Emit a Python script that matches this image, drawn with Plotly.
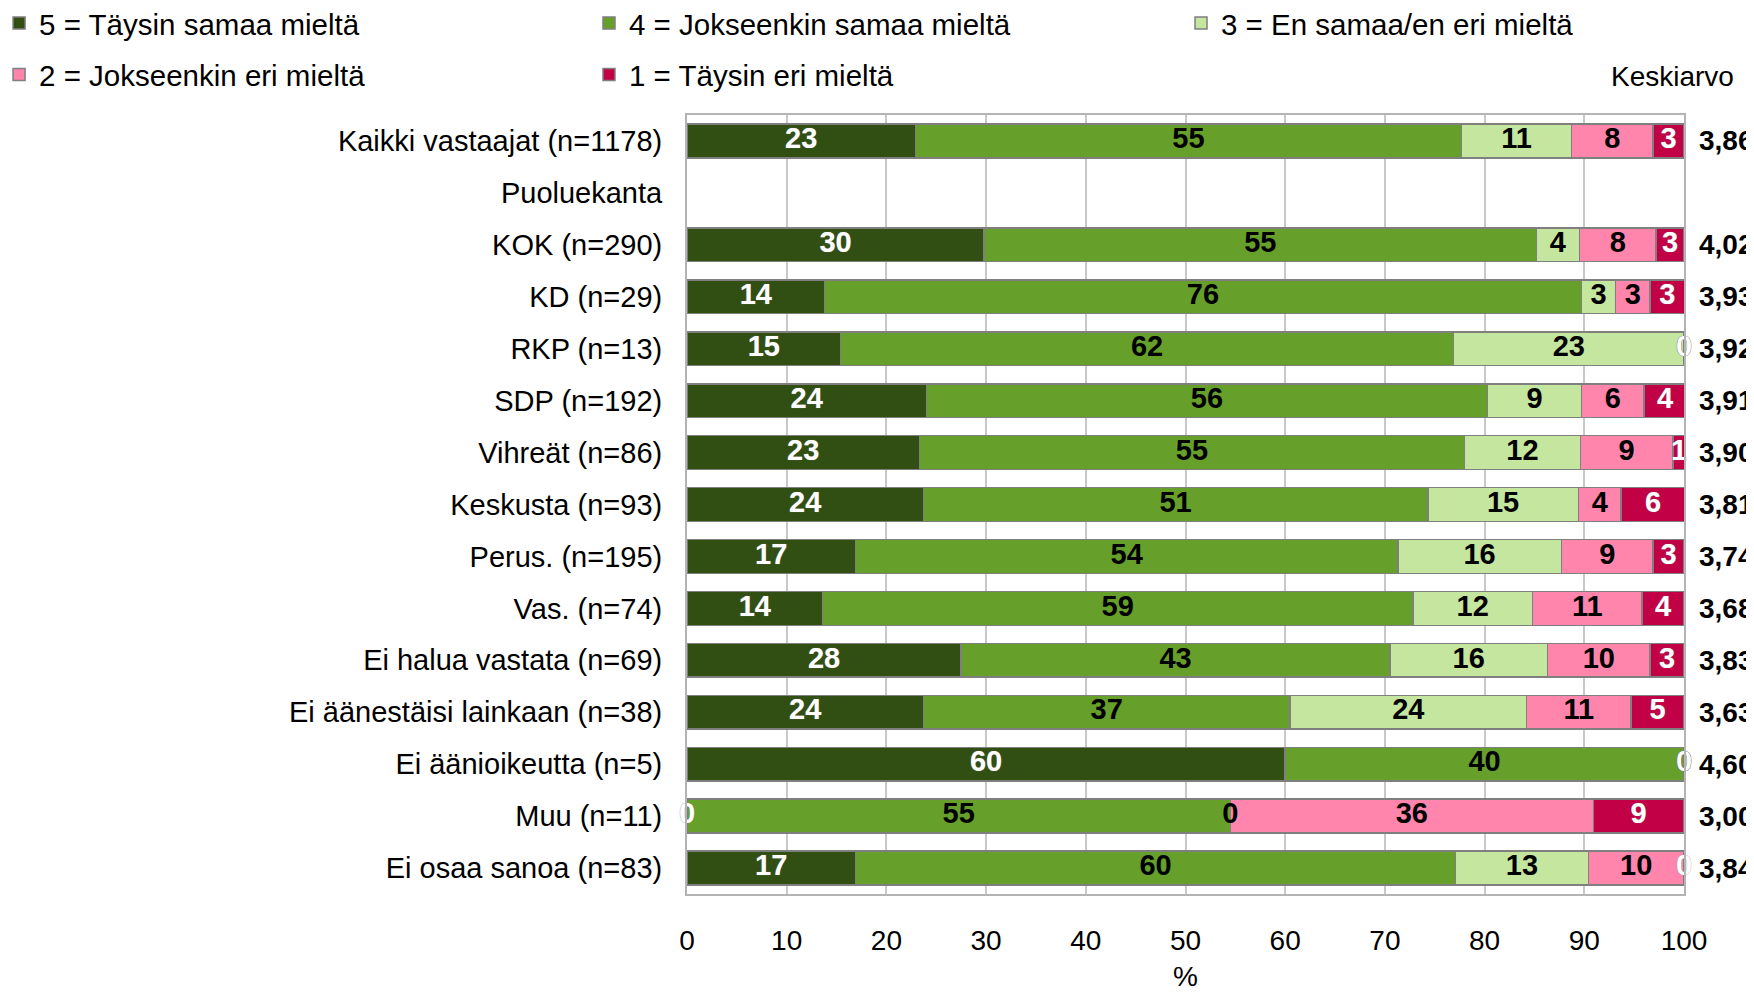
import plotly.graph_objects as go

categories = [
    "Kaikki vastaajat (n=1178)", "Puoluekanta", "KOK (n=290)", "KD (n=29)", "RKP (n=13)",
    "SDP (n=192)", "Vihreät (n=86)", "Keskusta (n=93)", "Perus. (n=195)", "Vas. (n=74)",
    "Ei halua vastata (n=69)", "Ei äänestäisi lainkaan (n=38)", "Ei äänioikeutta (n=5)",
    "Muu (n=11)", "Ei osaa sanoa (n=83)",
]

series_names = [
    "5 = Täysin samaa mieltä", "4 = Jokseenkin samaa mieltä", "3 = En samaa/en eri mieltä",
    "2 = Jokseenkin eri mieltä", "1 = Täysin eri mieltä",
]

s5 = [22.9, None, 29.8, 13.8, 15.4, 24.0, 23.3, 23.7, 16.9, 13.6, 27.5, 23.7, 60.0, 0.0, 16.9]
s4 = [54.8, None, 55.4, 75.9, 61.5, 56.3, 54.7, 50.6, 54.4, 59.2, 43.0, 36.8, 40.0, 54.5, 60.2]
s3 = [11.0, None, 4.3, 3.45, 23.1, 9.4, 11.6, 15.1, 16.4, 12.0, 15.8, 23.7, 0.0, 0.0, 13.3]
s2 = [8.2, None, 7.7, 3.45, 0.0, 6.3, 9.3, 4.3, 9.2, 11.0, 10.3, 10.5, 0.0, 36.4, 9.6]
s1 = [3.1, None, 2.8, 3.45, 0.0, 4.2, 1.2, 6.4, 3.1, 4.2, 3.4, 5.3, 0.0, 9.1, 0.0]

keskiarvo = ["3,86", "", "4,02", "3,93", "3,92", "3,91", "3,90", "3,81", "3,74", "3,68",
             "3,83", "3,63", "4,60", "3,00", "3,84"]

colors = ["#314f12", "#66a02a", "#c4e69f", "#ff85ad", "#c20046"]
text_colors = ["white", "black", "black", "black", "white"]
legend_ids = ["legend", "legend2", "legend3", "legend", "legend2"]

FONT = "Liberation Sans, Arial, sans-serif"
series = [s5, s4, s3, s2, s1]

fig = go.Figure()

for idx, (name, vals, col, lg) in enumerate(zip(series_names, series, colors, legend_ids)):
    fig.add_trace(go.Bar(
        y=categories, x=vals, name=name, orientation="h",
        marker=dict(color=col, line=dict(color="#7f7f7f", width=1.5)),
        legend=lg, legendgroup="g%d" % idx,
        hoverinfo="skip",
    ))

# data labels (including zero-width segments), centred on each segment
cum = [0.0] * len(categories)
for vals, tc in zip(series, text_colors):
    xs, ys, ts = [], [], []
    for i, v in enumerate(vals):
        if v is None:
            continue
        xs.append(cum[i] + v / 2.0)
        ys.append(categories[i])
        ts.append(str(int(v + 0.5)))
        cum[i] += v
    fig.add_trace(go.Scatter(
        x=xs, y=ys, text=ts, mode="text", showlegend=False, hoverinfo="skip",
        cliponaxis=False,
        textfont=dict(family=FONT, size=29, color=tc, weight="bold",
                      shadow=("0px 0px 1px #808080" if tc == "white" else "none")),
    ))

for cat, k in zip(categories, keskiarvo):
    if k:
        fig.add_annotation(x=1.013, xref="paper", y=cat, yref="y", text="<b>" + k + "</b>",
                           showarrow=False, xanchor="left",
                           font=dict(family=FONT, size=28, color="black"))

fig.add_annotation(x=1.052, xref="paper", y=1.050, yref="paper", text="Keskiarvo",
                   showarrow=False, xanchor="right", yanchor="middle",
                   font=dict(family=FONT, size=28, color="black"))

leg_common = dict(orientation="v", xanchor="left", yanchor="top", y=1.151,
                  traceorder="grouped", tracegroupgap=10, itemwidth=30,
                  bgcolor="rgba(0,0,0,0)", font=dict(family=FONT, size=29.5, color="black"))

n_cat = len(categories)

fig.update_layout(
    width=1746, height=984,
    barmode="stack", bargap=0.35,
    plot_bgcolor="white", paper_bgcolor="white",
    margin=dict(l=679, r=70, t=107, b=98, autoexpand=False),
    font=dict(family=FONT, size=28, color="black"),
    legend=dict(x=-0.690, **leg_common),
    legend2=dict(x=-0.0983, **leg_common),
    legend3=dict(x=0.4955, **leg_common),
    xaxis=dict(range=[0, 100], dtick=10, tick0=0, showgrid=True, gridcolor="#c8c8c8",
               gridwidth=2, zeroline=False, showline=True, linecolor="#b4b4b4",
               linewidth=2, mirror=True, ticks="", ticklabelstandoff=20,
               tickfont=dict(family=FONT, size=28),
               title=dict(text="%", font=dict(family=FONT, size=28), standoff=24)),
    yaxis=dict(categoryorder="array", categoryarray=categories,
               range=[n_cat - 0.5, -0.5], autorange=False,
               showgrid=False, showline=True, linecolor="#b4b4b4", linewidth=2, mirror=True,
               ticks="", ticklabelstandoff=17, tickfont=dict(family=FONT, size=29)),
)

fig.write_html("out.html")
